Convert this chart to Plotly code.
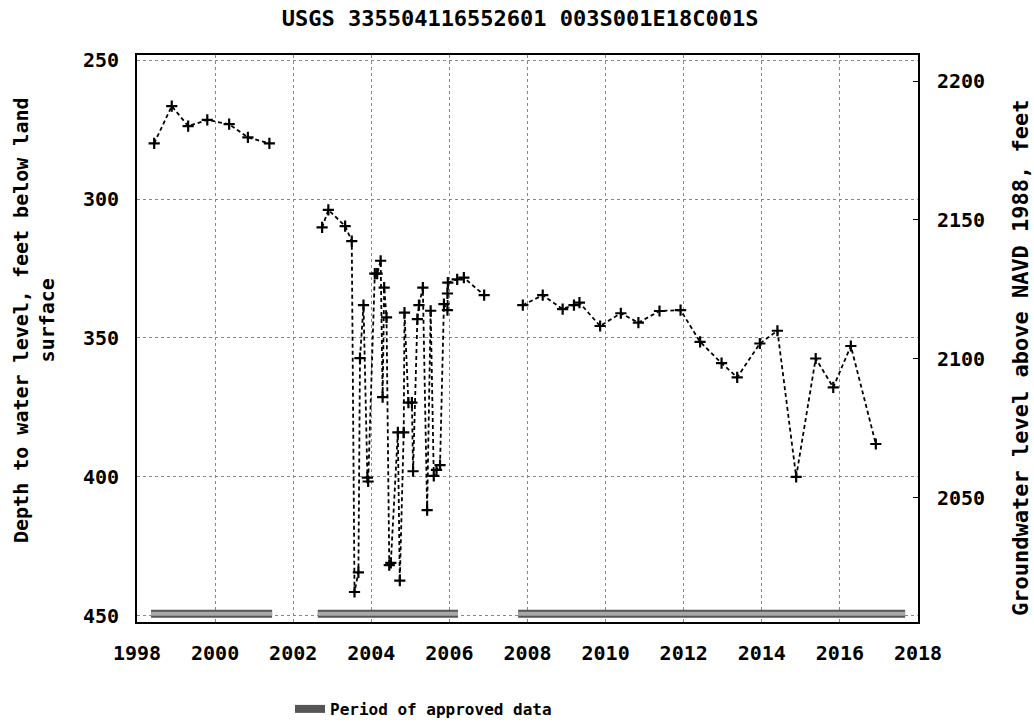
import plotly.graph_objects as go

# ---- data (decimal year, depth to water in feet below land surface) ----
seg1_year = [1998.44, 1998.89, 1999.31, 1999.80, 2000.36, 2000.84, 2001.39]
seg1_depth = [279.9, 266.5, 273.7, 271.5, 273.0, 277.8, 279.9]

seg2_year = [2002.74, 2002.90, 2003.33, 2003.50, 2003.57, 2003.67, 2003.71, 2003.80,
             2003.90, 2003.92, 2004.09, 2004.15, 2004.24, 2004.29, 2004.33, 2004.39,
             2004.46, 2004.50, 2004.68, 2004.73, 2004.83, 2004.85, 2004.95, 2005.04,
             2005.07, 2005.18, 2005.22, 2005.32, 2005.43, 2005.52, 2005.60, 2005.67,
             2005.76, 2005.86, 2005.95, 2005.95, 2005.96, 2006.20, 2006.37, 2006.89]
seg2_depth = [310.2, 303.9, 309.7, 315.1, 441.5, 434.4, 357.3, 338.2,
              400.3, 401.7, 326.8, 326.8, 322.2, 371.3, 331.9, 342.6,
              431.8, 431.0, 384.0, 437.4, 384.0, 340.9, 373.3, 373.3,
              398.0, 343.2, 338.2, 331.9, 412.0, 340.2, 399.7, 397.5,
              395.8, 337.8, 340.0, 334.0, 330.1, 328.9, 328.3, 334.6]

seg3_year = [2007.88, 2008.39, 2008.90, 2009.19, 2009.33, 2009.86, 2010.39, 2010.84,
             2011.38, 2011.92, 2012.42, 2012.97, 2013.37, 2013.95, 2014.40, 2014.88,
             2015.38, 2015.83, 2016.28, 2016.92]
seg3_depth = [338.2, 334.6, 339.6, 338.2, 337.3, 345.7, 341.1, 344.5,
              340.3, 340.0, 351.4, 359.1, 364.2, 352.0, 347.4, 400.0,
              357.4, 367.8, 352.9, 388.2]

approved_start = [1998.36, 2002.63, 2007.76]
approved_end = [2001.46, 2006.22, 2017.67]
approved_level = 449.3

land_surface_elev = 2457.5
depth_range = [452.3, 248.1]
depth_ticks = [250, 300, 350, 400, 450]
elev_ticks = [2050, 2100, 2150, 2200]
year_ticks = list(range(1998, 2019, 2))

FONT = "DejaVu Sans Mono"

fig = go.Figure()

# approved periods
bx, by = [], []
for s, e in zip(approved_start, approved_end):
    bx += [s, e, None]
    by += [approved_level, approved_level, None]
fig.add_trace(go.Scatter(x=bx, y=by, mode="lines", line=dict(color="#555555", width=8),
                         name="Period of approved data", showlegend=True, hoverinfo="skip"))
fig.add_trace(go.Scatter(x=bx, y=by, mode="lines", line=dict(color="#a8a8a8", width=4),
                         showlegend=False, hoverinfo="skip"))

for xs, ys in [(seg1_year, seg1_depth), (seg2_year, seg2_depth), (seg3_year, seg3_depth)]:
    fig.add_trace(go.Scatter(
        x=xs, y=ys, mode="lines+markers",
        line=dict(color="black", width=1.8, dash="4px,3px"),
        marker=dict(symbol="cross-thin", size=8, line=dict(color="black", width=2.2)),
        showlegend=False))

# invisible trace for right axis
fig.add_trace(go.Scatter(x=[2000], y=[land_surface_elev - 300], yaxis="y2",
                         mode="markers", marker=dict(opacity=0), showlegend=False,
                         hoverinfo="skip"))

fig.update_layout(
    width=1034, height=722,
    margin=dict(l=137, r=116, t=55, b=100, autoexpand=False),
    paper_bgcolor="white", plot_bgcolor="white",
    font=dict(family=FONT, size=16, color="black", weight="bold"),
    title=dict(text="USGS 335504116552601 003S001E18C001S", x=0.503, xanchor="center",
               y=1 - 18 / 722, yanchor="middle",
               font=dict(family=FONT, size=22, color="black", weight="bold")),
    xaxis=dict(range=[1998, 2018], tickvals=year_ticks, ticktext=[str(v) for v in year_ticks],
               showgrid=True, gridcolor="#888888", griddash="dot", gridwidth=1,
               showline=True, linecolor="black", linewidth=2, mirror=True,
               zeroline=False, ticks="", tickfont=dict(size=20), ticklabelstandoff=12,
               automargin=False),
    yaxis=dict(range=depth_range, tickvals=depth_ticks,
               showgrid=True, gridcolor="#888888", griddash="dot", gridwidth=1,
               showline=True, linecolor="black", linewidth=2, mirror=True,
               zeroline=False, ticks="", tickfont=dict(size=20), ticklabelstandoff=12,
               automargin=False),
    yaxis2=dict(range=[land_surface_elev - depth_range[0], land_surface_elev - depth_range[1]],
                tickvals=elev_ticks, overlaying="y", side="right", showgrid=False,
                zeroline=False, ticks="inside", ticklen=5, tickcolor="black",
                tickfont=dict(size=20), ticklabelstandoff=18, automargin=False),
    legend=dict(orientation="h", xref="container", x=290 / 1034, xanchor="left",
                yref="container", y=1 - 709 / 722, yanchor="middle",
                font=dict(family=FONT, size=16, weight="bold"), bgcolor="rgba(0,0,0,0)"),
    annotations=[
        dict(text="Depth to water level, feet below land<br>surface", textangle=-90,
             xref="paper", yref="paper", x=(34 - 137) / 781, y=(622 - 320) / 567,
             xanchor="center", yanchor="middle", showarrow=False,
             font=dict(family=FONT, size=20, weight="bold")),
        dict(text="Groundwater level above NAVD 1988, feet", textangle=-90,
             xref="paper", yref="paper", x=(1020 - 137) / 781, y=(622 - 358) / 567,
             xanchor="center", yanchor="middle", showarrow=False,
             font=dict(family=FONT, size=22, weight="bold")),
    ],
)

fig.write_html("out.html")
